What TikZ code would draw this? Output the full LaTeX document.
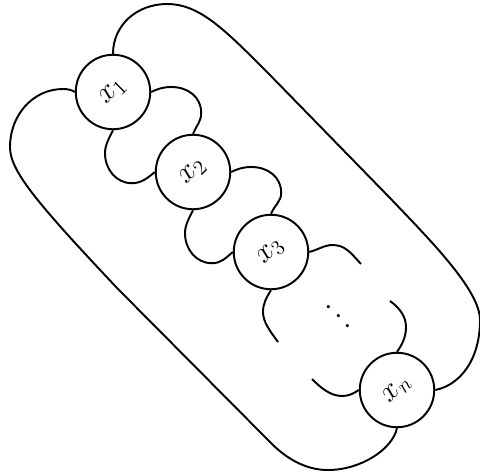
\documentclass[tikz,border=0pt]{standalone}
\usepackage{amsmath}
\usetikzlibrary{positioning}
\tikzset{
  bead/.style={circle, draw, line width=1.1pt, minimum size=1.49cm, inner sep=0pt, fill=white},
  strand/.style={line width=1.1pt},
}
\newcommand{\tilted}[1]{\rotatebox{45}{\LARGE$#1$}}

\begin{document}
\begin{tikzpicture}[x=0.02cm, y=-0.02cm]
\useasboundingbox (0,0) rectangle (480,471);

\node[bead] (x1) at (113,92) {\tilted{x_1}};
\node[bead] (x2) at (193,172) {\tilted{x_2}};
\node[bead] (x3) at (271,252) {\tilted{x_3}};
\node[bead] (xn) at (397,390) {\tilted{x_n}};
\node (dots) at (340,319) {\rotatebox{-45}{\LARGE$\cdots$}};

\coordinate (endA) at (361,264);
\coordinate (endB) at (278,342);
\coordinate (endC) at (390,301);
\coordinate (endD) at (312,379);

% links between neighbours
\foreach \a/\b in {x1/x2, x2/x3} {
  \draw[strand] (\a.east) .. controls +(6,-3) and +(-8,0) .. ++(20,-5)
    .. controls +(17,0) and +(0,-16) .. ++(30,26)
    .. controls +(0,8) and +(4,-9) .. (\b.north);
  \draw[strand] (\a.south) .. controls +(-4,8) and +(0,-8) .. ++(-8,23)
    .. controls +(0,16) and +(-16,0) .. ++(27,30)
    .. controls +(9,0) and +(-7,6) .. (\b.west);
}

% open ends
\draw[strand] (x3.east) .. controls (317,250) and (325,245) .. (332,245)
  .. controls (345,245) and (350,252) .. (endA);
\draw[strand] (x3.south) .. controls (266,298) and (263,304) .. (263,312)
  .. controls (263,322) and (270,331) .. (endB);
\draw[strand] (xn.north) .. controls (402,345) and (406,337) .. (406,327)
  .. controls (406,317) and (400,308) .. (endC);
\draw[strand] (xn.west) .. controls (353,394) and (348,396) .. (342,396)
  .. controls (330,396) and (320,387) .. (endD);

% outer strands
\draw[strand] (x1.north) .. controls (113,25) and (137,4) .. (167,4)
  .. controls (200,4) and (225,30) .. (269,74)
  -- (390,198) .. controls (430,240) and (480,290) .. (480,320)
  .. controls (480,360) and (460,385) .. (xn.east);
\draw[strand] (x1.west) .. controls (72,90) and (68,89) .. (63,89)
  .. controls (33,89) and (10,115) .. (10,147)
  .. controls (10,170) and (33,199) .. (118,289)
  -- (268,440) .. controls (285,458) and (305,470) .. (328,470)
  .. controls (360,470) and (392,450) .. (xn.south);
\end{tikzpicture}
\end{document}
